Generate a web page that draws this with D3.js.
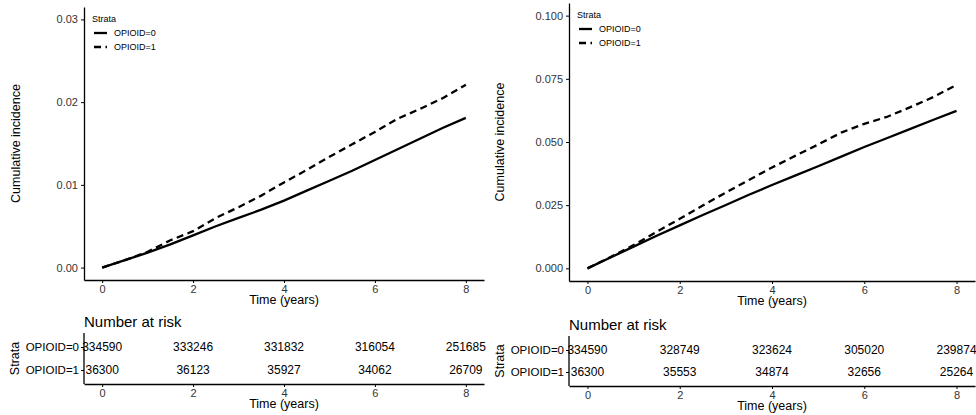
<!DOCTYPE html>
<html>
<head>
<meta charset="utf-8">
<script src="https://cdn.jsdelivr.net/npm/d3@7"></script>
<style>
  body { margin: 0; background: #fff; }
  svg { font-family: "Liberation Sans", Arial, sans-serif; }
  .axis path, .axis line { stroke: #000; }
  .axis text { fill: #333; }
</style>
</head>
<body>
<svg id="chart" width="976" height="415"></svg>
<script>
// Curve sample times (years)
const times = [0, 0.5, 1, 1.5, 2, 2.5, 3, 3.5, 4, 4.5, 5, 5.5, 6, 6.5, 7, 7.5, 8];

// Left panel cumulative incidence
const leftOpioid0 = [0, 0.0009, 0.0018, 0.0028, 0.0039, 0.0050, 0.0060, 0.0070, 0.0081, 0.0093, 0.0105, 0.0117, 0.0130, 0.0143, 0.0156, 0.0169, 0.0181];
const leftOpioid1 = [0, 0.0009, 0.0019, 0.0033, 0.0044, 0.0060, 0.0073, 0.0087, 0.0103, 0.0118, 0.0134, 0.0149, 0.0164, 0.0180, 0.0192, 0.0205, 0.0221];

// Right panel cumulative incidence
const rightOpioid0 = [0, 0.0043, 0.0086, 0.0129, 0.0170, 0.0211, 0.0251, 0.0291, 0.0330, 0.0367, 0.0404, 0.0442, 0.0480, 0.0516, 0.0552, 0.0588, 0.0623];
const rightOpioid1 = [0, 0.0045, 0.0092, 0.0145, 0.0196, 0.0249, 0.0300, 0.0350, 0.0399, 0.0445, 0.0490, 0.0537, 0.0572, 0.0600, 0.0638, 0.0678, 0.0726];

// Number at risk table
const riskTimes = [0, 2, 4, 6, 8];
const leftRisk0 = [334590, 333246, 331832, 316054, 251685];
const leftRisk1 = [36300, 36123, 35927, 34062, 26709];
const rightRisk0 = [334590, 328749, 323624, 305020, 239874];
const rightRisk1 = [36300, 35553, 34874, 32656, 25264];

const strata = ["OPIOID=0", "OPIOID=1"];
const xTicks = [0, 2, 4, 6, 8];
const leftYTicks = [0, 0.01, 0.02, 0.03];
const rightYTicks = [0, 0.025, 0.05, 0.075, 0.1];

const svg = d3.select("#chart");

const panels = [
  {
    id: "left", series: [leftOpioid0, leftOpioid1], risk: [leftRisk0, leftRisk1],
    yTicks: leftYTicks, yMax: 0.03, fmt: d3.format(".2f"),
    x0: 84, x1: 484, top: 7, bottom: 280, clipRight: 487,
    tableTop: 333, tableBottom: 384, ylabX: 16, strataX: 15
  },
  {
    id: "right", series: [rightOpioid0, rightOpioid1], risk: [rightRisk0, rightRisk1],
    yTicks: rightYTicks, yMax: 0.1, fmt: d3.format(".3f"),
    x0: 569, x1: 975, top: 3, bottom: 281, clipRight: 976,
    tableTop: 336, tableBottom: 386, ylabX: 500, strataX: 500
  }
];

panels.forEach(p => drawPanel(p));

function drawPanel(p) {
  const clipId = "clip-" + p.id;
  svg.append("clipPath").attr("id", clipId)
    .append("rect").attr("x", 0).attr("y", 0)
    .attr("width", p.clipRight).attr("height", 415);

  const g = svg.append("g").attr("clip-path", `url(#${clipId})`);

  // ggplot-style 5% expansion
  const x = d3.scaleLinear().domain([-0.4, 8.4]).range([p.x0, p.x1]);
  const pad = p.yMax * 0.05;
  const y = d3.scaleLinear().domain([-pad, p.yMax + pad]).range([p.bottom, p.top]);

  // Curves
  const line = d3.line()
    .x((d, i) => x(times[i]))
    .y(d => y(d));

  p.series.forEach((s, k) => {
    g.append("path")
      .datum(s)
      .attr("d", line)
      .attr("fill", "none")
      .attr("stroke", "#000")
      .attr("stroke-width", 2.3)
      .attr("stroke-dasharray", k === 1 ? "7,4.5" : null);
  });

  // Axes
  const yAxis = g.append("g").attr("class", "axis")
    .attr("transform", `translate(${p.x0},0)`)
    .call(d3.axisLeft(y).tickValues(p.yTicks).tickFormat(p.fmt).tickSize(3).tickPadding(3).tickSizeOuter(0));
  yAxis.select(".domain").attr("stroke-width", 1.3);
  yAxis.selectAll("text").style("font-size", "11px");

  const xAxis = g.append("g").attr("class", "axis")
    .attr("transform", `translate(0,${p.bottom})`)
    .call(d3.axisBottom(x).tickValues(xTicks).tickSize(3).tickPadding(2).tickSizeOuter(0));
  xAxis.select(".domain").attr("stroke-width", 1.3);
  xAxis.selectAll("text").style("font-size", "11px");

  g.append("text")
    .attr("x", (p.x0 + p.x1) / 2)
    .attr("y", p.bottom + 24)
    .attr("text-anchor", "middle")
    .style("font-size", "12.5px")
    .text("Time (years)");

  g.append("text")
    .attr("transform", `translate(${p.ylabX},${(p.top + p.bottom) / 2}) rotate(-90)`)
    .attr("text-anchor", "middle")
    .attr("dy", "0.35em")
    .style("font-size", "12.5px")
    .text("Cumulative incidence");

  // Legend
  const lg = g.append("g").attr("transform", `translate(${p.x0 + 8},${p.top + 12})`);
  lg.append("text").attr("x", 0).attr("y", 0).attr("dy", "0.35em")
    .style("font-size", "9px").text("Strata");
  strata.forEach((s, k) => {
    const yy = 14 + k * 14;
    lg.append("line")
      .attr("x1", 2).attr("x2", 15).attr("y1", yy).attr("y2", yy)
      .attr("stroke", "#000").attr("stroke-width", 2.3)
      .attr("stroke-dasharray", k === 1 ? "7,4.5" : null);
    lg.append("text").attr("x", 22).attr("y", yy).attr("dy", "0.35em")
      .style("font-size", "9px").text(s);
  });

  // Risk table
  g.append("text")
    .attr("x", p.x0)
    .attr("y", p.tableTop - 11)
    .attr("dy", "0.35em")
    .style("font-size", "15px")
    .text("Number at risk");

  const rowY = d3.scalePoint().domain(strata).range([p.tableTop + 14, p.tableBottom - 14]);

  const rAxis = g.append("g").attr("class", "axis")
    .attr("transform", `translate(${p.x0},0)`)
    .call(d3.axisLeft(rowY).tickSize(3).tickPadding(2).tickSizeOuter(0));
  rAxis.select(".domain").attr("d", `M0,${p.tableTop}V${p.tableBottom}`).attr("stroke-width", 1.3);
  rAxis.selectAll("text").style("font-size", "11.5px").style("fill", "#000");

  p.risk.forEach((row, k) => {
    g.selectAll(null)
      .data(row)
      .join("text")
      .attr("x", (d, i) => x(riskTimes[i]))
      .attr("y", rowY(strata[k]))
      .attr("dy", "0.35em")
      .attr("text-anchor", "middle")
      .style("font-size", "12px")
      .text(d => d);
  });

  const tAxis = g.append("g").attr("class", "axis")
    .attr("transform", `translate(0,${p.tableBottom})`)
    .call(d3.axisBottom(x).tickValues(xTicks).tickSize(3).tickPadding(2).tickSizeOuter(0));
  tAxis.select(".domain").attr("stroke-width", 1.3);
  tAxis.selectAll("text").style("font-size", "11px");

  g.append("text")
    .attr("x", (p.x0 + p.x1) / 2)
    .attr("y", p.tableBottom + 24)
    .attr("text-anchor", "middle")
    .style("font-size", "12.5px")
    .text("Time (years)");

  g.append("text")
    .attr("transform", `translate(${p.strataX},${(p.tableTop + p.tableBottom) / 2}) rotate(-90)`)
    .attr("text-anchor", "middle")
    .attr("dy", "0.35em")
    .style("font-size", "12.5px")
    .text("Strata");
}
</script>
</body>
</html>
